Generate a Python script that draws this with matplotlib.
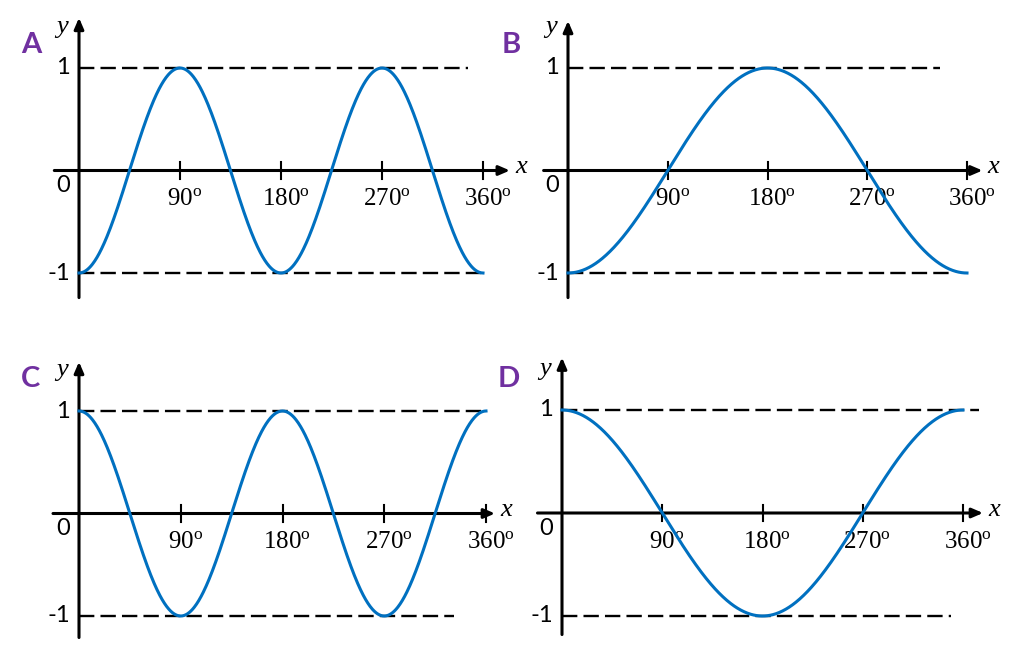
import numpy as np
import matplotlib.pyplot as plt

plt.rcParams["mathtext.fontset"] = "custom"
plt.rcParams["mathtext.rm"] = "Liberation Serif"
plt.rcParams["mathtext.it"] = "Liberation Serif:italic"

# Data
panel_names = ["A", "B", "C", "D"]
curve_freq = [2, 1, 2, 1]        # multiple of x inside cos
curve_sign = [-1, -1, 1, 1]      # y = sign * cos(freq * x)
tick_degrees = [90, 180, 270, 360]
tick_labels = ["90", "180", "270", "360"]
level_values = [1, -1]

# Layout (pixels on a 1024x645 canvas): x of 0deg, x of 360deg, y of +1, y of -1
boxes = [(79, 483, 68, 273), (568, 967, 68, 273),
         (79, 486, 411, 616), (562, 963, 410, 616)]
# x axis start / arrow tip (deg), y axis bottom / arrow tip (units)
x_axis_ends = [(-22, 384), (-22, 374), (-23, 368), (-22, 378)]
y_axis_ends = [(-1.24, 1.49), (-1.24, 1.46), (-1.21, 1.48), (-1.18, 1.51)]
# where the dashed lines at y=1 and y=-1 stop (deg)
dash_ends = [(347, 360), (336, 345), (360, 332), (374, 349)]
# panel letter positions (pixels)
letter_pos = [(31, 45), (511, 45), (30, 379), (509, 379)]

W, H = 1024, 645
blue = "#0070C0"
purple = "#7030A0"

fig = plt.figure(figsize=(10.24, 6.45), dpi=100)

x_deg = np.linspace(0, 360, 721)

for i, name in enumerate(panel_names):
    x0, x360, y1, ym1 = boxes[i]
    ax = fig.add_axes([x0 / W, (H - ym1) / H, (x360 - x0) / W, (ym1 - y1) / H])
    ax.set_xlim(0, 360)
    ax.set_ylim(-1, 1)
    ax.axis("off")

    # dashed guide lines at 1 and -1
    for lvl, end in zip(level_values, dash_ends[i]):
        ax.plot([0, end], [lvl, lvl], color="black", lw=1.7,
                dashes=(6.5, 2.6), clip_on=False)

    # axes with arrows
    arrow = dict(arrowstyle="-|>,head_length=0.65,head_width=0.28",
                 color="black", lw=2.2, shrinkA=0, shrinkB=0, mutation_scale=10)
    xa, xb = x_axis_ends[i]
    ya, yb = y_axis_ends[i]
    ax.annotate("", xy=(xb, 0), xytext=(xa, 0), arrowprops=arrow,
                annotation_clip=False)
    ax.annotate("", xy=(0, yb), xytext=(0, ya), arrowprops=arrow,
                annotation_clip=False)

    # ticks and labels
    for d, lab in zip(tick_degrees, tick_labels):
        ax.plot([d, d], [-0.08, 0.08], color="black", lw=1.5, clip_on=False)
        ax.text(d + 4, -0.34, r"$\mathrm{" + lab + r"}^{\mathrm{o}}$",
                fontsize=18, ha="center", va="baseline")

    ax.text(-8, 1, "1", fontsize=17, family="Lato", ha="right", va="center")
    ax.text(-8, -1, "-1", fontsize=17, family="Lato", ha="right", va="center")
    ax.text(-8, -0.15, "0", fontsize=17, family="Lato", ha="right", va="center")

    # axis names
    ax.text(xb + 10, 0.03, "x", fontsize=19, family="Liberation Serif",
            style="italic", ha="center", va="center")
    ax.text(-15, 1.40, "y", fontsize=19, family="Liberation Serif",
            style="italic", ha="center", va="center")

    # curve
    y = curve_sign[i] * np.cos(np.radians(curve_freq[i] * x_deg))
    ax.plot(x_deg, y, color=blue, lw=2.2, clip_on=False, zorder=3)

    lx, ly = letter_pos[i]
    fig.text(lx / W, 1 - ly / H, name, fontsize=21, family="Lato",
             weight="bold", color=purple, ha="center", va="center")

plt.savefig("out.png", dpi=100)
